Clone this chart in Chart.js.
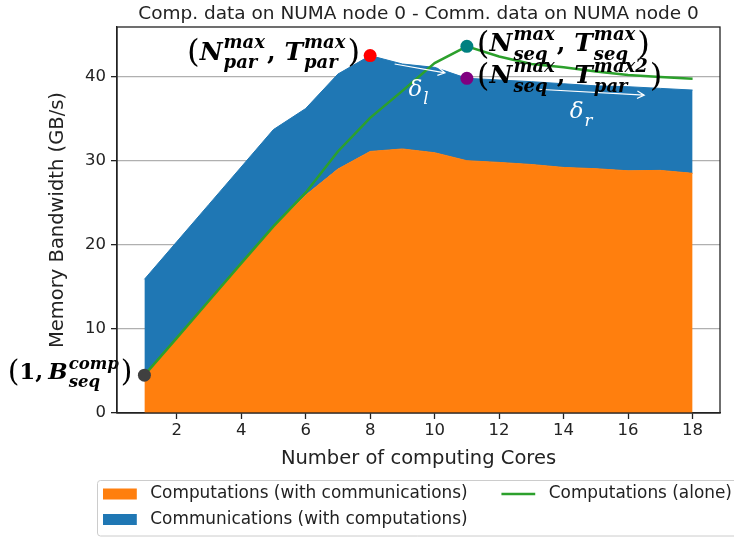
<!DOCTYPE html>
<html>
<head>
<meta charset="utf-8">
<script src="https://cdn.jsdelivr.net/npm/chart.js@4.4.1/dist/chart.umd.min.js"></script>
<style>
  html, body { margin: 0; padding: 0; background: #fff; }
  #wrap { width: 734px; height: 538px; }
</style>
</head>
<body>
<div id="wrap"><canvas id="chart" width="734" height="538"></canvas></div>
<script>
// Bandwidth per core count (GB/s)
const cores = [1, 2, 3, 4, 5, 6, 7, 8, 9, 10, 11, 12, 13, 14, 15, 16, 17, 18];
const compWithComm = [4.5, 8.9, 13.35, 17.8, 22.2, 25.9, 29.0, 31.1, 31.4, 30.95, 30.0, 29.8, 29.55, 29.2, 29.05, 28.8, 28.85, 28.5];
const commWithComp = [11.4, 11.45, 11.45, 11.45, 11.5, 10.3, 11.3, 11.4, 10.1, 10.15, 9.8, 9.8, 9.85, 9.95, 9.85, 10.0, 9.75, 9.9];
const compAlone = [4.5, 8.9, 13.35, 17.8, 22.2, 26.2, 31.1, 35.1, 38.3, 41.6, 43.6, 42.4, 41.5, 41.1, 40.6, 40.2, 39.95, 39.75];

const xTicks = [2, 4, 6, 8, 10, 12, 14, 16, 18];
const yTicks = [0, 10, 20, 30, 40];

const TITLE = 'Comp. data on NUMA node 0 - Comm. data on NUMA node 0';
const SANS = '"DejaVu Sans", sans-serif';
const SERIF = '"DejaVu Serif", serif';
const TEXT = '#222';
const LEGEND_SIZE = 16.9;

// helper: points for a series
function pts(values) {
  return cores.map((c, i) => ({ x: c, y: values[i] }));
}

// Draw a small math expression: tokens are parens, plain text, gaps or a symbol with sup/sub
function drawMath(ctx, tokens, S, x, y, align, color, weight = 'bold') {
  const items = [];
  let w = 0;
  tokens.forEach(tk => {
    if (tk.gap) {
      w += S * tk.gap;
    } else if (tk.paren) {
      ctx.font = `${S * 1.3}px ${SERIF}`;
      items.push({ text: tk.paren, font: ctx.font, dx: w, dy: S * 0.1 });
      w += ctx.measureText(tk.paren).width;
    } else if (tk.plain) {
      ctx.font = `${weight} ${S}px ${SERIF}`;
      items.push({ text: tk.plain, font: ctx.font, dx: w, dy: 0 });
      w += ctx.measureText(tk.plain).width;
    } else {
      ctx.font = `${weight} italic ${S}px ${SERIF}`;
      items.push({ text: tk.base, font: ctx.font, dx: w, dy: 0 });
      w += ctx.measureText(tk.base).width + S * 0.04;
      ctx.font = `${weight} italic ${S * 0.72}px ${SERIF}`;
      let sw = 0;
      if (tk.sup) {
        items.push({ text: tk.sup, font: ctx.font, dx: w, dy: -S * 0.45 });
        sw = Math.max(sw, ctx.measureText(tk.sup).width);
      }
      if (tk.sub) {
        items.push({ text: tk.sub, font: ctx.font, dx: w, dy: S * 0.34 });
        sw = Math.max(sw, ctx.measureText(tk.sub).width);
      }
      w += sw + S * 0.08;
    }
  });
  const x0 = align === 'right' ? x - w : x;
  ctx.fillStyle = color;
  ctx.textBaseline = 'alphabetic';
  ctx.textAlign = 'left';
  items.forEach(it => {
    ctx.font = it.font;
    ctx.fillText(it.text, x0 + it.dx, y + it.dy);
  });
}

function arrow(ctx, x1, y1, x2, y2) {
  const a = Math.atan2(y2 - y1, x2 - x1);
  const hl = 8, hw = 0.5;
  ctx.beginPath();
  ctx.moveTo(x1, y1);
  ctx.lineTo(x2, y2);
  ctx.moveTo(x2 - hl * Math.cos(a - hw), y2 - hl * Math.sin(a - hw));
  ctx.lineTo(x2, y2);
  ctx.lineTo(x2 - hl * Math.cos(a + hw), y2 - hl * Math.sin(a + hw));
  ctx.stroke();
}

const annotationPlugin = {
  id: 'annotations',
  afterDatasetsDraw(chart) {
    const { ctx, scales: { x, y } } = chart;
    const px = v => x.getPixelForValue(v);
    const py = v => y.getPixelForValue(v);
    const totals = compWithComm.map((v, i) => v + commWithComp[i]);
    const iPar = totals.indexOf(Math.max(...totals));
    const iSeq = compAlone.indexOf(Math.max(...compAlone));
    ctx.save();

    // white delta arrows (data coords)
    ctx.strokeStyle = '#fff';
    ctx.lineWidth = 1.2;
    arrow(ctx, px(8.76), py(41.5), px(10.32), py(40.45));
    arrow(ctx, px(13.2), py(38.5), px(16.5), py(37.8));
    drawMath(ctx, [{ base: 'δ', sub: 'l' }], 23, px(9.5) - 10, py(38.3) + 5, 'left', '#fff', 'normal');
    drawMath(ctx, [{ base: 'δ', sub: 'r' }], 23, px(14.5) - 10, py(35.7) + 5, 'left', '#fff', 'normal');

    // marker dots
    const dots = [
      { xv: cores[0], yv: compAlone[0], color: '#404040' },
      { xv: cores[iPar], yv: totals[iPar], color: '#ff0000' },
      { xv: cores[iSeq], yv: compAlone[iSeq], color: '#008080' },
      { xv: cores[iSeq], yv: totals[iSeq], color: '#800080' }
    ];
    dots.forEach(d => {
      ctx.beginPath();
      ctx.arc(px(d.xv), py(d.yv), 6.5, 0, Math.PI * 2);
      ctx.fillStyle = d.color;
      ctx.fill();
    });

    const S = 25;
    drawMath(ctx, [{ paren: '(' }, { base: 'N', sup: 'max', sub: 'par' }, { plain: ', ' },
      { base: 'T', sup: 'max', sub: 'par' }, { paren: ')' }],
      S, px(cores[iPar]) - 10, py(totals[iPar]) + 4, 'right', '#000');
    drawMath(ctx, [{ paren: '(' }, { base: 'N', sup: 'max', sub: 'seq' }, { plain: ', ' },
      { base: 'T', sup: 'max', sub: 'seq' }, { paren: ')' }],
      S, px(cores[iSeq]) + 10, py(compAlone[iSeq]) + 5, 'left', '#000');
    drawMath(ctx, [{ paren: '(' }, { base: 'N', sup: 'max', sub: 'seq' }, { plain: ', ' },
      { base: 'T', sup: 'max2', sub: 'par' }, { paren: ')' }],
      S, px(cores[iSeq]) + 10, py(totals[iSeq]) + 5, 'left', '#000');
    drawMath(ctx, [{ paren: '(' }, { plain: '1,' }, { gap: 0.22 }, { base: 'B', sup: 'comp', sub: 'seq' }, { paren: ')' }],
      23, px(cores[0]) - 12, py(compAlone[0]) + 4, 'right', '#000');
    ctx.restore();
  }
};

const framePlugin = {
  id: 'frame',
  afterDraw(chart) {
    const { ctx, chartArea: a } = chart;
    ctx.save();
    // axes box (matplotlib spines)
    ctx.strokeStyle = TEXT;
    ctx.lineWidth = 1.3;
    ctx.strokeRect(a.left, a.top, a.right - a.left, a.bottom - a.top);

    // title centred over the axes
    ctx.fillStyle = TEXT;
    ctx.font = `18.5px ${SANS}`;
    ctx.textAlign = 'center';
    ctx.textBaseline = 'alphabetic';
    ctx.fillText(TITLE, (a.left + a.right) / 2, 19);

    // legend, two columns like matplotlib ncol=2
    const ds = chart.data.datasets;
    const left = 97.5, top = 480.5, bottom = 536;
    ctx.beginPath();
    ctx.roundRect(left, top, 760 - left, bottom - top, 3);
    ctx.fillStyle = 'rgba(255,255,255,0.8)';
    ctx.fill();
    ctx.strokeStyle = '#cccccc';
    ctx.lineWidth = 1;
    ctx.stroke();

    ctx.font = `${LEGEND_SIZE}px ${SANS}`;
    ctx.textAlign = 'left';
    ctx.textBaseline = 'middle';
    const rows = [494, 519.5];
    const handleX = 103, handleW = 2 * LEGEND_SIZE, textX = handleX + handleW + 0.8 * LEGEND_SIZE;
    const col1 = [ds[0], ds[1]];
    col1.forEach((d, i) => {
      ctx.fillStyle = d.backgroundColor;
      ctx.fillRect(handleX, rows[i] - 5.5, handleW, 11);
      ctx.fillStyle = TEXT;
      ctx.fillText(d.label, textX, rows[i]);
    });
    const colW = Math.max(...col1.map(d => ctx.measureText(d.label).width));
    const h2 = textX + colW + 2 * LEGEND_SIZE;
    ctx.strokeStyle = ds[2].borderColor;
    ctx.lineWidth = 2.5;
    ctx.beginPath();
    ctx.moveTo(h2, rows[0]);
    ctx.lineTo(h2 + handleW, rows[0]);
    ctx.stroke();
    ctx.fillStyle = TEXT;
    ctx.fillText(ds[2].label, h2 + handleW + 0.8 * LEGEND_SIZE, rows[0]);
    ctx.restore();
  }
};

new Chart(document.getElementById('chart'), {
  type: 'line',
  data: {
    datasets: [
      {
        label: 'Computations (with communications)',
        data: pts(compWithComm),
        stack: 'mixed',
        backgroundColor: '#ff7f0e',
        borderColor: '#ff7f0e',
        borderWidth: 1,
        pointRadius: 0,
        fill: 'origin'
      },
      {
        label: 'Communications (with computations)',
        data: pts(commWithComp),
        stack: 'mixed',
        backgroundColor: '#1f77b4',
        borderColor: '#1f77b4',
        borderWidth: 1,
        pointRadius: 0,
        fill: '-1'
      },
      {
        label: 'Computations (alone)',
        data: pts(compAlone),
        stack: 'alone',
        borderColor: '#2ca02c',
        borderWidth: 2.5,
        pointRadius: 0,
        fill: false,
        order: -1
      }
    ]
  },
  options: {
    responsive: false,
    animation: false,
    devicePixelRatio: 1,
    layout: { padding: { top: 27, right: 14, bottom: 65, left: 0 } },
    plugins: {
      legend: { display: false },
      title: { display: false },
      tooltip: { enabled: false }
    },
    scales: {
      x: {
        type: 'linear',
        min: 0.15,
        max: 18.85,
        afterBuildTicks: s => { s.ticks = xTicks.map(v => ({ value: v })); },
        afterFit: s => { s.height = 60; },
        grid: { drawOnChartArea: false, tickLength: 6, tickColor: TEXT, tickWidth: 1.3 },
        border: { color: TEXT, width: 1.3 },
        ticks: { color: TEXT, font: { family: SANS, size: 16.5 }, padding: 2, maxRotation: 0 },
        title: {
          display: true, text: 'Number of computing Cores', color: TEXT,
          font: { family: SANS, size: 19.5 }, padding: { top: 0, bottom: 2 }
        }
      },
      y: {
        stacked: true,
        min: 0,
        max: 45.9,
        afterBuildTicks: s => { s.ticks = yTicks.map(v => ({ value: v })); },
        afterFit: s => { s.width = 117; },
        grid: { color: '#b0b0b0', lineWidth: 1.3, tickLength: 6, tickColor: TEXT, tickWidth: 1.3 },
        border: { color: TEXT, width: 1.3 },
        ticks: { color: TEXT, font: { family: SANS, size: 16.5 }, padding: 5 },
        title: {
          display: true, text: 'Memory Bandwidth (GB/s)', color: TEXT,
          font: { family: SANS, size: 19.5 }, padding: { top: 46, bottom: 0 }
        }
      }
    }
  },
  plugins: [annotationPlugin, framePlugin]
});
</script>
</body>
</html>
